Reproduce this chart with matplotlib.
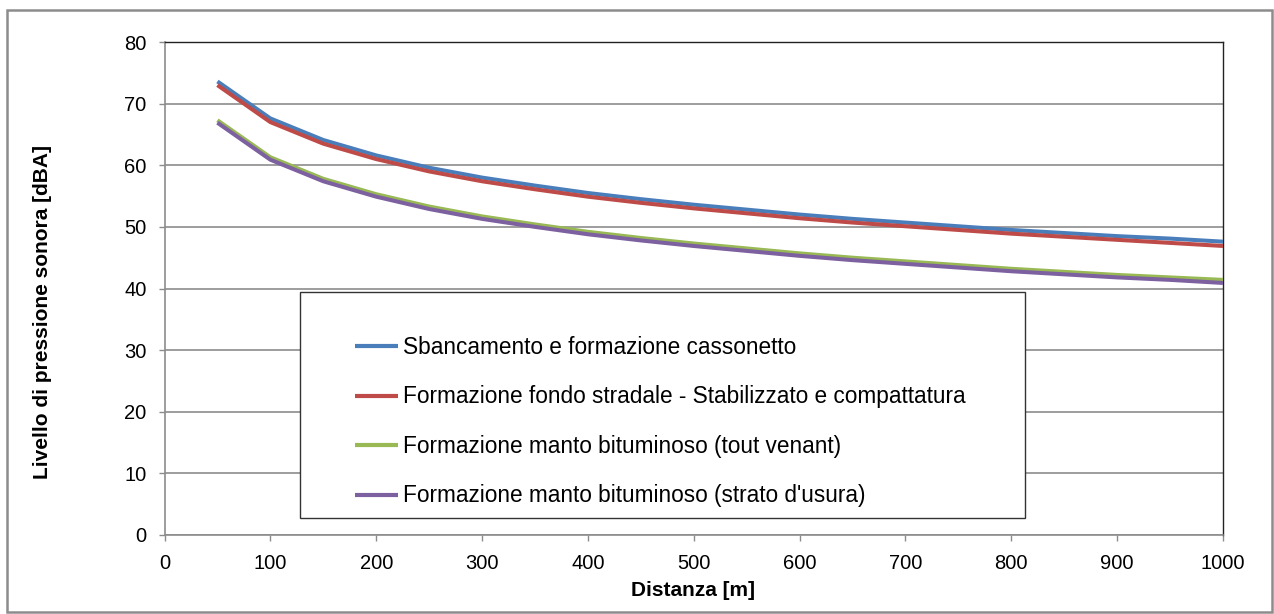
import matplotlib
matplotlib.use("Agg")
import matplotlib.pyplot as plt
from matplotlib.patches import Rectangle

plt.rcParams['font.family'] = ['Liberation Sans', 'DejaVu Sans']

# distanza [m]
distanza = [50, 100, 150, 200, 250, 300, 350, 400, 450, 500,
            550, 600, 650, 700, 750, 800, 850, 900, 950, 1000]

# livelli [dBA]
sbancamento = [73.6, 67.6, 64.1, 61.6, 59.6, 58.0, 56.7, 55.5, 54.5, 53.6,
               52.8, 52.0, 51.3, 50.7, 50.1, 49.5, 49.0, 48.5, 48.1, 47.6]
fondo_stradale = [73.0, 67.0, 63.5, 61.0, 59.0, 57.4, 56.1, 54.9, 53.9, 53.0,
                  52.2, 51.4, 50.7, 50.1, 49.5, 48.9, 48.4, 47.9, 47.4, 46.9]
tout_venant = [67.3, 61.3, 57.8, 55.3, 53.3, 51.7, 50.4, 49.2, 48.2, 47.3,
               46.5, 45.7, 45.0, 44.4, 43.8, 43.2, 42.7, 42.2, 41.8, 41.4]
strato_usura = [66.9, 60.9, 57.4, 54.9, 52.9, 51.3, 50.0, 48.8, 47.8, 46.9,
                46.1, 45.3, 44.6, 44.0, 43.4, 42.8, 42.3, 41.8, 41.4, 40.9]

etichette = ["Sbancamento e formazione cassonetto",
             "Formazione fondo stradale - Stabilizzato e compattatura",
             "Formazione manto bituminoso (tout venant)",
             "Formazione manto bituminoso (strato d'usura)"]
colori = ["#4A7EBB", "#BE4B48", "#98B954", "#7D60A0"]

W, H = 1274, 614
fig = plt.figure(figsize=(W / 100, H / 100), dpi=100)
ax = fig.add_axes([164.5 / W, 1 - 535 / H, (1223 - 164.5) / W, (535 - 42) / H])

serie = [sbancamento, fondo_stradale, tout_venant, strato_usura]
linee = []
for valori, lab, col in zip(serie, etichette, colori):
    ln, = ax.plot(distanza, valori, color=col, lw=2.9, label=lab,
                  solid_capstyle='butt', zorder=3)
    linee.append(ln)

ax.set_xlim(0, 1000)
ax.set_ylim(0, 80)
ax.set_xticks(range(0, 1001, 100))
ax.set_yticks(range(0, 81, 10))
ax.yaxis.grid(True, color='#8C8C8C', lw=1.2)
ax.set_axisbelow(True)

for s in ['top', 'right']:
    ax.spines[s].set_color('#222222')
    ax.spines[s].set_linewidth(1.0)
for s in ['left', 'bottom']:
    ax.spines[s].set_color('#8C8C8C')
    ax.spines[s].set_linewidth(1.2)
ax.tick_params(axis='both', length=4.5, width=1, color='#8C8C8C',
               labelsize=14.5, labelcolor='black')
ax.tick_params(axis='x', pad=9)
ax.tick_params(axis='y', pad=8.5)

ax.set_xlabel("Distanza [m]", fontsize=15, fontweight='bold')
ax.set_ylabel("Livello di pressione sonora [dBA]", fontsize=15,
              fontweight='bold')
ax.xaxis.set_label_coords(0.499, -0.1116)
ax.xaxis.label.set_va('center')
ax.yaxis.set_label_coords(-0.1148, 0.453)
ax.yaxis.label.set_va('center')

# riquadro della legenda
fig.patches.append(Rectangle((300 / W, 1 - 518 / H), (1025 - 300) / W,
                             (518 - 292) / H, transform=fig.transFigure,
                             facecolor='white', edgecolor='#333333', lw=1.0,
                             zorder=4))
leg = fig.legend(handles=linee, loc='upper left',
                 bbox_to_anchor=(355 / W, 1 - 336 / H), frameon=False,
                 fontsize=16.3, handlelength=1.9, handletextpad=0.2,
                 labelspacing=1.17, borderpad=0, borderaxespad=0)
leg.set_zorder(5)
for h in leg.legend_handles:
    h.set_linewidth(3)

# bordo esterno del grafico
fig.patches.append(Rectangle((7 / W, 2 / H), (1272 - 7) / W, (604 - 2) / H,
                             transform=fig.transFigure, facecolor='none',
                             edgecolor='#8C8C8C', lw=1.8))

fig.savefig("out.png", dpi=100)
